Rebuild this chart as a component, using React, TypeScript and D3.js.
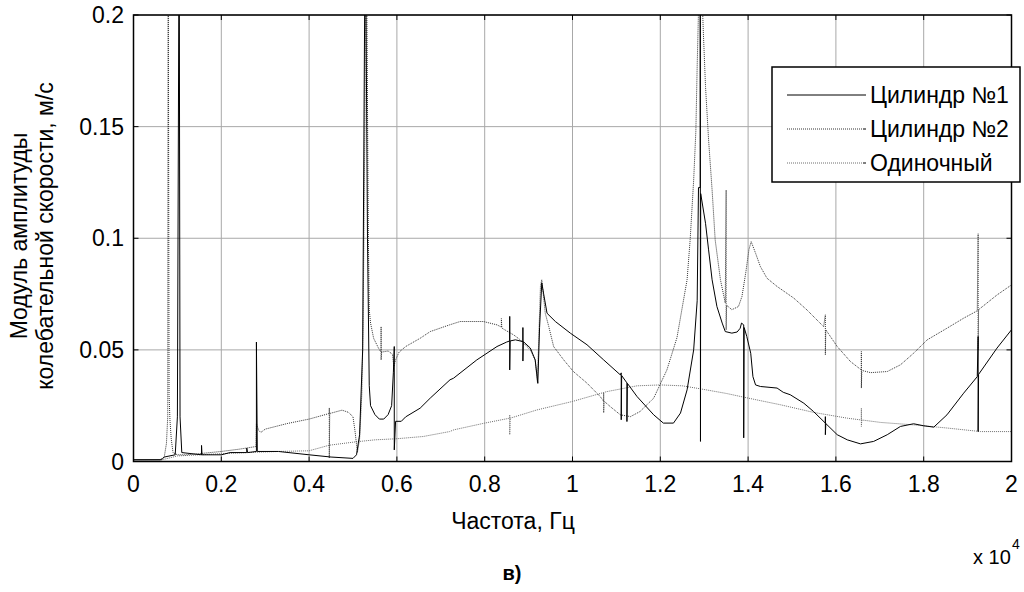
import * as d3 from "d3";

// frequency in units of 10^4 Hz, amplitude in m/s
const cyl1: [number, number][] = [
  [0, 0.0008], [0.064, 0.0008], [0.07, 0.002], [0.095, 0.003], [0.1, 0.02], [0.104, 0.25],
  [0.106, 0.02], [0.11, 0.004], [0.155, 0.003], [0.155, 0.0072], [0.156, 0.003], [0.2, 0.003],
  [0.22, 0.004], [0.258, 0.004], [0.258, 0.006], [0.26, 0.004], [0.28, 0.0045], [0.28, 0.0535],
  [0.282, 0.0045], [0.33, 0.0045], [0.4, 0.003], [0.45, 0.002], [0.5, 0.0014], [0.508, 0.003],
  [0.515, 0.012], [0.522, 0.05], [0.528, 0.25], [0.533, 0.1], [0.537, 0.034], [0.54, 0.025],
  [0.55, 0.021], [0.56, 0.019], [0.57, 0.019], [0.58, 0.021], [0.588, 0.025], [0.592, 0.04],
  [0.594, 0.0515], [0.594, 0.0052], [0.597, 0.018], [0.61, 0.018], [0.62, 0.02], [0.653, 0.0239],
  [0.676, 0.0284], [0.721, 0.0366], [0.729, 0.0373], [0.782, 0.0455], [0.828, 0.0515],
  [0.85, 0.0535], [0.857, 0.054], [0.857, 0.065], [0.857, 0.041], [0.858, 0.054], [0.87, 0.0545],
  [0.887, 0.0537], [0.887, 0.06], [0.887, 0.045], [0.888, 0.0537], [0.904, 0.0508],
  [0.915, 0.0455], [0.921, 0.035], [0.925, 0.06], [0.93, 0.08], [0.934, 0.0754], [0.942, 0.0664],
  [0.961, 0.0627], [0.995, 0.0575], [1.033, 0.0523], [1.071, 0.0455], [1.109, 0.0388],
  [1.111, 0.0397], [1.111, 0.0187], [1.112, 0.0385], [1.124, 0.0352], [1.124, 0.0179],
  [1.125, 0.035], [1.147, 0.0291], [1.185, 0.0209], [1.207, 0.0172], [1.23, 0.0172],
  [1.246, 0.0217], [1.261, 0.0321], [1.276, 0.05], [1.284, 0.072], [1.287, 0.1227],
  [1.291, 0.1227], [1.291, 0.21], [1.2915, 0.009], [1.292, 0.12], [1.303, 0.1067],
  [1.31, 0.0948], [1.318, 0.0814], [1.329, 0.0694], [1.341, 0.062], [1.348, 0.0582],
  [1.363, 0.0575], [1.375, 0.058], [1.382, 0.0597], [1.385, 0.062], [1.39, 0.0612],
  [1.39, 0.0106], [1.391, 0.06], [1.397, 0.056], [1.406, 0.0485], [1.411, 0.038],
  [1.417, 0.0343], [1.428, 0.0336], [1.466, 0.0329], [1.48, 0.031], [1.496, 0.0299],
  [1.527, 0.0261], [1.549, 0.0224], [1.576, 0.0172], [1.576, 0.0201], [1.576, 0.012],
  [1.577, 0.017], [1.603, 0.012], [1.626, 0.0097], [1.656, 0.0079], [1.686, 0.009],
  [1.717, 0.012], [1.747, 0.0157], [1.777, 0.0169], [1.8, 0.016], [1.823, 0.0154],
  [1.853, 0.0209], [1.891, 0.0306], [1.922, 0.038], [1.924, 0.056], [1.924, 0.0134],
  [1.925, 0.039], [1.967, 0.0508], [2.0, 0.059],
];

const cyl2: [number, number][] = [
  [0, 0.0008], [0.06, 0.0008], [0.07, 0.002], [0.075, 0.008], [0.078, 0.02], [0.079, 0.25],
  [0.081, 0.03], [0.083, 0.0187], [0.086, 0.01], [0.09, 0.004], [0.1, 0.003], [0.12, 0.003],
  [0.15, 0.0035], [0.2, 0.0045], [0.24, 0.0055], [0.279, 0.0067], [0.28, 0.017], [0.285, 0.014],
  [0.29, 0.013], [0.3, 0.0145], [0.35, 0.017], [0.4, 0.019], [0.446, 0.0215], [0.446, 0.024],
  [0.446, 0.0015], [0.447, 0.0215], [0.475, 0.023], [0.49, 0.022], [0.5, 0.02], [0.505, 0.013],
  [0.51, 0.004], [0.515, 0.01], [0.52, 0.03], [0.523, 0.06], [0.527, 0.15], [0.53, 0.25],
  [0.535, 0.1], [0.537, 0.068], [0.54, 0.062], [0.547, 0.0552], [0.558, 0.0508],
  [0.564, 0.049], [0.564, 0.0604], [0.564, 0.0455], [0.565, 0.049], [0.58, 0.0495],
  [0.59, 0.048], [0.593, 0.0425], [0.597, 0.0455], [0.605, 0.049], [0.62, 0.0515],
  [0.653, 0.0552], [0.676, 0.0582], [0.72, 0.0612], [0.744, 0.0627], [0.797, 0.0627],
  [0.828, 0.0612], [0.838, 0.0602], [0.838, 0.064], [0.839, 0.0598], [0.843, 0.0593],
  [0.866, 0.0567], [0.881, 0.0545], [0.904, 0.05], [0.915, 0.0455], [0.92, 0.0358],
  [0.927, 0.0784], [0.93, 0.0814], [0.938, 0.0664], [0.946, 0.0604], [0.957, 0.0515],
  [0.98, 0.0455], [1.002, 0.0403], [1.033, 0.0351], [1.063, 0.0291], [1.071, 0.027],
  [1.071, 0.0307], [1.071, 0.0218], [1.072, 0.027], [1.086, 0.0246], [1.109, 0.0209],
  [1.132, 0.0201], [1.154, 0.0224], [1.185, 0.0284], [1.215, 0.041], [1.238, 0.0555],
  [1.253, 0.0724], [1.261, 0.0814], [1.268, 0.0993], [1.276, 0.126], [1.281, 0.148],
  [1.284, 0.177], [1.288, 0.21], [1.295, 0.21], [1.298, 0.1925], [1.303, 0.168],
  [1.31, 0.144], [1.318, 0.1216], [1.325, 0.0993], [1.337, 0.0814], [1.348, 0.071],
  [1.35, 0.1216], [1.35, 0.059], [1.351, 0.07], [1.363, 0.068], [1.378, 0.0694],
  [1.386, 0.0739], [1.395, 0.085], [1.402, 0.095], [1.407, 0.0985], [1.417, 0.0933],
  [1.428, 0.0873], [1.443, 0.0821], [1.466, 0.0784], [1.504, 0.0732], [1.534, 0.0679],
  [1.572, 0.0604], [1.576, 0.0657], [1.576, 0.0478], [1.577, 0.059], [1.603, 0.0515],
  [1.633, 0.0448], [1.658, 0.041], [1.658, 0.0493], [1.658, 0.0329], [1.659, 0.0408],
  [1.679, 0.0398], [1.717, 0.0403], [1.747, 0.0433], [1.777, 0.0485], [1.808, 0.0545],
  [1.853, 0.0597], [1.891, 0.0642], [1.922, 0.0675], [1.924, 0.102], [1.924, 0.05],
  [1.925, 0.068], [1.967, 0.0746], [2.0, 0.0791],
];

const single: [number, number][] = [
  [0, 0.0005], [0.06, 0.0006], [0.07, 0.001], [0.09, 0.002], [0.1, 0.0025], [0.15, 0.003],
  [0.2, 0.0035], [0.26, 0.004], [0.33, 0.0045], [0.4, 0.0048], [0.446, 0.0073], [0.506, 0.0088],
  [0.55, 0.0097], [0.6, 0.0102], [0.66, 0.0112], [0.72, 0.0134], [0.73, 0.0142], [0.8, 0.0172],
  [0.857, 0.0194], [0.857, 0.0209], [0.857, 0.012], [0.858, 0.0194], [0.919, 0.0231],
  [1.0, 0.0269], [1.078, 0.0313], [1.147, 0.0339], [1.2, 0.0343], [1.25, 0.0339],
  [1.29, 0.0326], [1.35, 0.0305], [1.4, 0.0284], [1.474, 0.0254], [1.549, 0.022],
  [1.626, 0.0194], [1.658, 0.0186], [1.658, 0.0239], [1.658, 0.0157], [1.659, 0.0186],
  [1.702, 0.0175], [1.777, 0.0164], [1.853, 0.015], [1.93, 0.0134], [2.0, 0.0134],
];

const xTicks = [0, 0.2, 0.4, 0.6, 0.8, 1, 1.2, 1.4, 1.6, 1.8, 2];
const yTicks = [0, 0.05, 0.1, 0.15, 0.2];
const seriesNames = ["Цилиндр №1", "Цилиндр №2", "Одиночный"];

const font = "'Liberation Sans', Arial, sans-serif";

export default function App() {
  const width = 1024,
    height = 592;
  const left = 133.5,
    right = 1011.5,
    top = 15,
    bottom = 461.5;

  const x = d3.scaleLinear().domain([0, 2]).range([left, right]);
  const y = d3.scaleLinear().domain([0, 0.2]).range([bottom, top]);

  const line = d3
    .line<[number, number]>()
    .x((d) => x(d[0]))
    .y((d) => y(d[1]));

  const styles = [
    { data: cyl1, stroke: "#000", dash: undefined as string | undefined },
    { data: cyl2, stroke: "#333", dash: "1 1" },
    { data: single, stroke: "#6e6e6e", dash: "1 1" },
  ];

  const tick = 5;
  const fs = 23;

  return (
    <svg
      width={width}
      height={height}
      style={{ position: "absolute", left: 0, top: 0, background: "#fff" }}
      fontFamily={font}
    >
      <defs>
        <clipPath id="plot">
          <rect x={left} y={top} width={right - left} height={bottom - top} />
        </clipPath>
      </defs>

      {/* grid */}
      {xTicks.map((t) => (
        <line key={"gx" + t} x1={x(t)} x2={x(t)} y1={top} y2={bottom} stroke="#a8a8a8" />
      ))}
      {yTicks.map((t) => (
        <line key={"gy" + t} x1={left} x2={right} y1={y(t)} y2={y(t)} stroke="#a8a8a8" />
      ))}

      {/* series, dotted ones under the solid one */}
      <g clipPath="url(#plot)" fill="none">
        {[2, 1, 0].map((i) => (
          <path
            key={i}
            d={line(styles[i].data) ?? ""}
            stroke={styles[i].stroke}
            strokeWidth={1}
            strokeDasharray={styles[i].dash}
          />
        ))}
      </g>

      {/* box and inward ticks */}
      <rect x={left} y={top} width={right - left} height={bottom - top} fill="none" stroke="#000" strokeWidth={1.5} />
      {xTicks.map((t) => (
        <g key={"tx" + t} stroke="#000">
          <line x1={x(t)} x2={x(t)} y1={bottom} y2={bottom - tick} />
          <line x1={x(t)} x2={x(t)} y1={top} y2={top + tick} />
        </g>
      ))}
      {yTicks.map((t) => (
        <g key={"ty" + t} stroke="#000">
          <line x1={left} x2={left + tick} y1={y(t)} y2={y(t)} />
          <line x1={right} x2={right - tick} y1={y(t)} y2={y(t)} />
        </g>
      ))}

      {/* tick labels */}
      {xTicks.map((t) => (
        <text key={"lx" + t} x={x(t)} y={492} fontSize={fs} textAnchor="middle">
          {String(t)}
        </text>
      ))}
      {yTicks.map((t) => (
        <text key={"ly" + t} x={124} y={y(t) + 8} fontSize={fs} textAnchor="end">
          {String(t)}
        </text>
      ))}

      {/* axis titles */}
      <text x={513} y={529} fontSize={fs} textAnchor="middle">
        Частота, Гц
      </text>
      <text x={973} y={564} fontSize={20}>
        x 10
      </text>
      <text x={1012} y={549} fontSize={14}>
        4
      </text>
      <g transform="translate(0,236) rotate(-90)" fontSize={fs} textAnchor="middle">
        <text x={0} y={27}>Модуль амплитуды</text>
        <text x={0} y={53}>колебательной скорости, м/с</text>
      </g>
      <text x={512} y={580} fontSize={20} fontWeight="bold" textAnchor="middle">
        в)
      </text>

      {/* legend */}
      <g>
        <rect x={772} y={67} width={248} height={115} fill="#fff" stroke="#000" strokeWidth={1.5} />
        {seriesNames.map((name, i) => {
          const ly = 95 + i * 34;
          return (
            <g key={name}>
              <line
                x1={787}
                x2={863}
                y1={ly}
                y2={ly}
                stroke={styles[i].stroke}
                strokeDasharray={styles[i].dash}
              />
              <line x1={863} x2={866} y1={ly} y2={ly} stroke="#000" />
              <text x={870} y={ly + 8} fontSize={fs}>
                {name}
              </text>
            </g>
          );
        })}
      </g>
    </svg>
  );
}
